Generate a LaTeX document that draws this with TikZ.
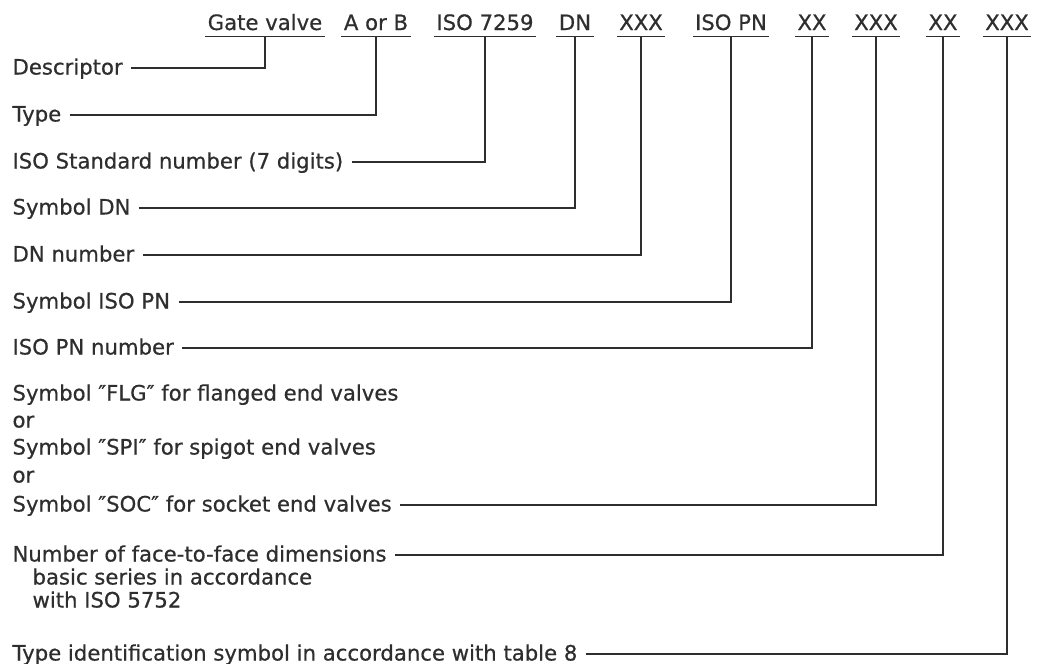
\documentclass[tikz,border=0pt]{standalone}
\usepackage{fontspec}
\setmainfont{DejaVu Sans}[FakeBold=0.6]
\usepackage{tikz}
\newcommand{\valvefont}{\fontsize{21.2}{25}\selectfont}
\definecolor{ink}{gray}{0.18}
\tikzset{field/.style = {anchor = base, font = \valvefont, inner xsep = 2pt, inner ysep = 6pt, text depth = 0pt}}
\tikzset{desc/.style = {anchor = west, font = \valvefont, inner xsep = 8pt, inner ysep = 0pt, text height = 16pt, text depth = 3pt}}

\begin{document}
\begin{tikzpicture}[x = 1pt, y = -1pt, line width = 1.1pt, color = ink]
    \useasboundingbox (0, 0) rectangle (1037, 664);

    % designation
    \node [field] (gate) at (265, 30) {Gate valve};
    \node [field] (kind) at (376, 30) {A or B};
    \node [field] (iso) at (485, 30) {ISO 7259};
    \node [field] (dn) at (575, 30) {DN};
    \node [field] (dnnum) at (641, 30) {XXX};
    \node [field] (pn) at (731, 30) {ISO PN};
    \node [field] (pnnum) at (812, 30) {XX};
    \node [field] (ends) at (876, 30) {XXX};
    \node [field] (ftf) at (943, 30) {XX};
    \node [field] (ident) at (1007, 30) {XXX};
    \foreach \f in {gate, kind, iso, dn, dnnum, pn, pnnum, ends, ftf, ident}
      \draw (\f.south west) -- (\f.south east);

    % meanings
    \node [desc] (descr) at (4, 68) {Descriptor};
    \node [desc] (type) at (4, 115) {Type};
    \node [desc] (isonum) at (4, 162) {ISO Standard number (7 digits)};
    \node [desc] (dnsym) at (4, 208) {Symbol DN};
    \node [desc] (dnno) at (4, 255) {DN number};
    \node [desc] (pnsym) at (4, 302) {Symbol ISO PN};
    \node [desc] (pnno) at (4, 348) {ISO PN number};
    \node [desc] (flg) at (4, 394) {Symbol ″FLG″ for flanged end valves};
    \node [desc] (or1) at (4, 421) {or};
    \node [desc] (spi) at (4, 448) {Symbol ″SPI″ for spigot end valves};
    \node [desc] (or2) at (4, 476) {or};
    \node [desc] (soc) at (4, 505) {Symbol ″SOC″ for socket end valves};
    \node [desc] (face) at (4, 555) {Number of face-to-face dimensions};
    \node [desc] (basic) at (24, 578) {basic series in accordance};
    \node [desc] (with) at (24, 601) {with ISO 5752};
    \node [desc] (typeid) at (4, 654) {Type identification symbol in accordance with table 8};

    \draw (descr.east) -| (gate.south);
    \draw (type.east) -| (kind.south);
    \draw (isonum.east) -| (iso.south);
    \draw (dnsym.east) -| (dn.south);
    \draw (dnno.east) -| (dnnum.south);
    \draw (pnsym.east) -| (pn.south);
    \draw (pnno.east) -| (pnnum.south);
    \draw (soc.east) -| (ends.south);
    \draw (face.east) -| (ftf.south);
    \draw (typeid.east) -| (ident.south);
\end{tikzpicture}
\end{document}
